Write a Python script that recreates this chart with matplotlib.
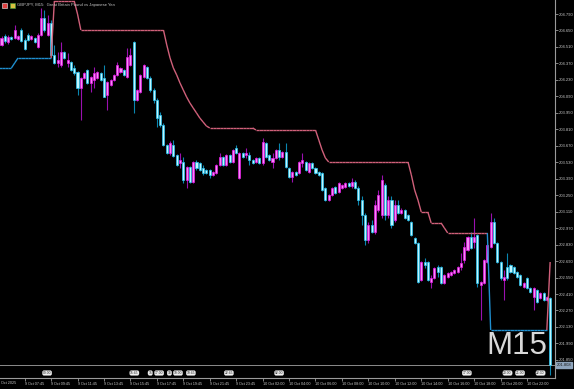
import matplotlib
matplotlib.use("Agg")
import matplotlib.pyplot as plt
from matplotlib.collections import LineCollection
import numpy as np

# ---------------- data (GBPJPY M15, 9 Oct 06:00 -> 10 Oct 23:45) ----------------
opens = [204.527, 204.603, 204.552, 204.595, 204.586, 204.578, 204.654, 204.569, 204.612, 204.578,
         204.586, 204.510, 204.612, 204.756, 204.612, 204.714, 204.442, 204.374, 204.357, 204.467,
         204.374, 204.382, 204.331, 204.297, 204.161, 204.246, 204.314, 204.204, 204.229, 204.246,
         204.289, 204.246, 204.102, 204.187, 204.229, 204.272, 204.297, 204.314, 204.255, 204.357,
         204.552, 204.059, 204.127, 204.255, 204.340, 204.246, 204.144, 204.059, 203.932, 203.847,
         203.677, 203.609, 203.677, 203.592, 203.524, 203.532, 203.379, 203.490, 203.362, 203.532,
         203.524, 203.481, 203.464, 203.464, 203.422, 203.439, 203.507, 203.575, 203.507, 203.592,
         203.532, 203.651, 203.396, 203.609, 203.592, 203.592, 203.549, 203.532, 203.566, 203.524,
         203.694, 203.592, 203.532, 203.566, 203.634, 203.575, 203.617, 203.481, 203.405, 203.447,
         203.439, 203.524, 203.532, 203.447, 203.524, 203.481, 203.447, 203.439, 203.311, 203.209,
         203.252, 203.320, 203.277, 203.311, 203.320, 203.354, 203.328, 203.362, 203.311, 203.209,
         203.082, 202.869, 202.997, 202.937, 203.124, 203.082, 203.337, 203.082, 203.209, 203.039,
         203.167, 203.099, 203.124, 203.082, 203.022, 202.886, 202.843, 202.529, 202.682, 202.682,
         202.512, 202.546, 202.639, 202.639, 202.504, 202.555, 202.572, 202.589, 202.597, 202.639,
         202.699, 202.784, 202.895, 202.852, 202.912, 202.487, 202.504, 202.682, 202.810, 203.022,
         202.843, 202.682, 202.529, 202.639, 202.656, 202.639, 202.597, 202.572, 202.470, 202.546,
         202.461, 202.385, 202.444, 202.376, 202.419, 202.359, 202.376]
highs = [204.603, 204.620, 204.612, 204.603, 204.697, 204.612, 204.671, 204.586, 204.629, 204.612,
         204.595, 204.629, 204.841, 204.824, 204.782, 204.739, 204.527, 204.467, 204.552, 204.476,
         204.459, 204.391, 204.357, 204.306, 204.255, 204.297, 204.323, 204.263, 204.340, 204.306,
         204.297, 204.357, 204.221, 204.238, 204.280, 204.382, 204.340, 204.323, 204.501, 204.501,
         204.561, 204.153, 204.280, 204.365, 204.348, 204.263, 204.161, 204.076, 203.957, 203.864,
         203.685, 203.711, 203.719, 203.600, 203.609, 203.575, 203.498, 203.498, 203.541, 203.549,
         203.532, 203.507, 203.473, 203.473, 203.456, 203.515, 203.609, 203.583, 203.600, 203.600,
         203.643, 203.677, 203.617, 203.617, 203.651, 203.617, 203.558, 203.575, 203.575, 203.736,
         203.702, 203.600, 203.609, 203.643, 203.694, 203.626, 203.694, 203.490, 203.456, 203.456,
         203.541, 203.609, 203.541, 203.532, 203.532, 203.490, 203.456, 203.447, 203.320, 203.260,
         203.320, 203.328, 203.362, 203.345, 203.362, 203.362, 203.396, 203.379, 203.328, 203.243,
         203.099, 203.022, 203.039, 203.209, 203.294, 203.422, 203.354, 203.243, 203.243, 203.209,
         203.209, 203.141, 203.133, 203.090, 203.031, 202.895, 202.852, 202.691, 202.716, 202.691,
         202.572, 202.639, 202.656, 202.648, 202.580, 202.597, 202.605, 202.622, 202.648, 202.759,
         202.852, 202.903, 202.937, 203.056, 202.920, 202.521, 202.708, 202.835, 203.099, 203.056,
         202.852, 202.691, 202.614, 202.759, 202.665, 202.648, 202.605, 202.580, 202.512, 202.555,
         202.470, 202.470, 202.453, 202.427, 202.427, 202.393, 202.385]
lows = [204.518, 204.544, 204.535, 204.569, 204.578, 204.569, 204.552, 204.484, 204.561, 204.569,
        204.544, 204.501, 204.603, 204.637, 204.603, 204.433, 204.365, 204.340, 204.340, 204.408,
        204.340, 204.306, 204.272, 204.102, 203.889, 204.238, 204.195, 204.127, 204.161, 204.238,
        204.221, 204.085, 203.974, 204.178, 204.221, 204.263, 204.289, 204.263, 204.246, 204.348,
        203.949, 204.051, 204.119, 204.246, 204.238, 204.127, 204.034, 203.830, 203.830, 203.668,
        203.600, 203.592, 203.575, 203.498, 203.481, 203.354, 203.311, 203.354, 203.354, 203.464,
        203.456, 203.422, 203.430, 203.396, 203.413, 203.430, 203.498, 203.498, 203.498, 203.524,
        203.524, 203.600, 203.388, 203.566, 203.566, 203.507, 203.515, 203.524, 203.515, 203.507,
        203.566, 203.541, 203.481, 203.558, 203.549, 203.566, 203.481, 203.396, 203.362, 203.413,
        203.430, 203.490, 203.456, 203.439, 203.473, 203.430, 203.413, 203.286, 203.200, 203.200,
        203.243, 203.260, 203.269, 203.303, 203.311, 203.320, 203.311, 203.303, 203.167, 202.997,
        202.827, 202.843, 202.929, 202.920, 203.107, 203.056, 203.039, 203.056, 202.971, 203.022,
        203.090, 203.090, 203.048, 203.031, 202.903, 202.835, 202.504, 202.521, 202.631, 202.521,
        202.461, 202.538, 202.555, 202.495, 202.495, 202.546, 202.563, 202.580, 202.589, 202.614,
        202.673, 202.776, 202.793, 202.801, 202.470, 202.189, 202.495, 202.673, 202.801, 202.835,
        202.673, 202.529, 202.359, 202.529, 202.589, 202.580, 202.546, 202.478, 202.461, 202.453,
        202.419, 202.274, 202.334, 202.368, 202.351, 202.351, 201.722]
closes = [204.586, 204.561, 204.595, 204.578, 204.654, 204.603, 204.561, 204.493, 204.569, 204.603,
          204.552, 204.612, 204.756, 204.654, 204.714, 204.442, 204.374, 204.399, 204.467, 204.416,
          204.399, 204.314, 204.289, 204.161, 204.246, 204.289, 204.204, 204.255, 204.289, 204.297,
          204.229, 204.085, 204.212, 204.229, 204.272, 204.357, 204.331, 204.272, 204.425, 204.442,
          204.059, 204.144, 204.272, 204.357, 204.246, 204.144, 204.059, 203.906, 203.847, 203.677,
          203.609, 203.694, 203.583, 203.507, 203.549, 203.379, 203.490, 203.362, 203.532, 203.481,
          203.464, 203.439, 203.439, 203.422, 203.447, 203.507, 203.575, 203.507, 203.592, 203.532,
          203.634, 203.609, 203.609, 203.575, 203.609, 203.549, 203.524, 203.566, 203.524, 203.702,
          203.575, 203.549, 203.566, 203.634, 203.575, 203.617, 203.490, 203.405, 203.447, 203.422,
          203.532, 203.549, 203.464, 203.524, 203.481, 203.439, 203.422, 203.294, 203.209, 203.252,
          203.311, 203.269, 203.354, 203.337, 203.354, 203.328, 203.362, 203.311, 203.209, 203.082,
          202.869, 202.997, 202.937, 203.167, 203.252, 203.379, 203.082, 203.209, 202.997, 203.167,
          203.099, 203.124, 203.056, 203.039, 202.912, 202.843, 202.512, 202.682, 202.656, 202.529,
          202.546, 202.631, 202.597, 202.504, 202.572, 202.589, 202.597, 202.614, 202.639, 202.673,
          202.810, 202.895, 202.801, 202.895, 202.504, 202.512, 202.699, 202.827, 203.022, 202.843,
          202.682, 202.546, 202.555, 202.546, 202.597, 202.589, 202.555, 202.487, 202.504, 202.461,
          202.427, 202.461, 202.342, 202.419, 202.359, 202.385, 201.808]

# SuperTrend-style stop line and its direction (1 = up/blue, -1 = down/red)
trend = ([204.331] * 4 + [204.374] + [204.416] * 11 + [204.901] * 7 + [204.790] + [204.654] * 26 +
         [204.527, 204.416, 204.331, 204.272, 204.204, 204.144, 204.085, 204.034, 203.991, 203.949,
          203.906, 203.872, 203.838] + [203.821] * 14 + [203.804] * 19 +
         [203.719, 203.634, 203.566] + [203.532] * 25 + [203.422, 203.294, 203.209] +
         [203.107] * 3 + [203.014] * 4 + [202.971] + [202.929] * 13 + [202.104] * 18 + [202.682])
trend_dir = [1] * 16 + [-1] * 132 + [1] * 18 + [-1]

yticks = [204.790, 204.650, 204.510, 204.370, 204.230, 204.090, 203.950, 203.810, 203.670,
          203.530, 203.390, 203.250, 203.110, 202.970, 202.830, 202.690, 202.550, 202.410,
          202.270, 202.130, 201.990, 201.850]
xtick_idx = [7, 15, 23, 31, 39, 47, 55, 63, 71, 79, 87, 95, 103, 111, 119, 127, 135, 143, 151, 159]
xtick_lbl = ["9 Oct 07:45", "9 Oct 09:45", "9 Oct 11:45", "9 Oct 13:45", "9 Oct 15:45",
             "9 Oct 17:45", "9 Oct 19:45", "9 Oct 21:45", "9 Oct 23:45", "10 Oct 02:00",
             "10 Oct 04:00", "10 Oct 06:00", "10 Oct 08:00", "10 Oct 10:00", "10 Oct 12:00",
             "10 Oct 14:00", "10 Oct 16:00", "10 Oct 18:00", "10 Oct 20:00", "10 Oct 22:00"]
flag_idx = [13.8, 40.2, 45.0, 47.7, 50.8, 53.4, 57.3, 68.8, 84.0, 140.8, 153.1, 156.9, 163.1]
flag_lbl = ["09:00", "15:45", "15", "17:00", "18", "19:00", "19:45", "22:45", "02:00",
            "17:00", "20:00", "21:00", "22:30"]
bid_price = 201.808
bid_lbl = "201.808"

# ---------------- figure ----------------
W, H = 574, 389
plt.rcParams['font.family'] = ['Liberation Sans', 'DejaVu Sans']
fig = plt.figure(figsize=(W / 100, H / 100), dpi=100, facecolor="black")
ax = fig.add_axes([0, 11 / H, 555 / W, 378 / H], facecolor="black")

o = np.array(opens); h = np.array(highs); l = np.array(lows); c = np.array(closes)
n = len(o)
x = np.arange(n)
bull = c >= o

BULL_BODY, BULL_EDGE, BULL_WICK = "#f68cf6", "#e818e8", "#9a10b0"
BEAR_BODY, BEAR_EDGE, BEAR_WICK = "#bff6ff", "#28c4f0", "#0a86b0"

ax.vlines(x[bull], l[bull], h[bull], color=BULL_WICK, lw=0.8, zorder=2)
ax.vlines(x[~bull], l[~bull], h[~bull], color=BEAR_WICK, lw=0.8, zorder=2)
ax.bar(x[bull], (c - o)[bull], bottom=o[bull], width=0.62, color=BULL_BODY,
       edgecolor=BULL_EDGE, linewidth=0.5, zorder=3)
ax.bar(x[~bull], (c - o)[~bull], bottom=o[~bull], width=0.62, color=BEAR_BODY,
       edgecolor=BEAR_EDGE, linewidth=0.5, zorder=3)

# trend line segments
tv = np.array(trend); td = np.array(trend_dir)
segs, cols = [[(-1, tv[0]), (x[0], tv[0])]], ["#1f8fd0"]
for i in range(1, n):
    segs.append([(x[i - 1], tv[i - 1]), (x[i], tv[i])])
    cols.append("#1f8fd0" if td[i] > 0 else "#d0607a")
ax.add_collection(LineCollection(segs, colors=cols, linewidths=1.0, zorder=4))

# bid line
ax.axhline(bid_price, color="#8c8c8c", lw=0.7, zorder=1)

ax.set_xlim(-0.454, 167.47)
ax.set_ylim(201.696, 204.909)

for s in ["top", "left"]:
    ax.spines[s].set_visible(False)
for s in ["right", "bottom"]:
    ax.spines[s].set_color("#9a9a9a")
    ax.spines[s].set_linewidth(0.8)

ax.yaxis.tick_right()
ax.set_yticks(yticks)
ax.set_yticklabels([f"{v:.3f}" for v in yticks])
ax.tick_params(axis="y", colors="#9a9a9a", labelcolor="#c8c8c8", length=2, width=0.6,
               labelsize=3.0, pad=0.5)
ax.set_xticks(xtick_idx)
ax.set_xticklabels(xtick_lbl)
ax.tick_params(axis="x", colors="#9a9a9a", labelcolor="#c8c8c8", length=2.5, width=0.6,
               labelsize=2.7, pad=0.2)
for lab in ax.get_xticklabels():
    lab.set_horizontalalignment("left")
fig.text(1 / W, 1 - 383 / H, "Oct 2025", fontsize=2.7, color="#c8c8c8", ha="left", va="center")

# event flags at the bottom of the chart
for fi, fl in zip(flag_idx, flag_lbl):
    ax.text(fi, 201.696 + 0.0085 * 5, fl, fontsize=2.4, color="#202020",
            ha="center", va="center", clip_on=False, zorder=6,
            bbox=dict(boxstyle="round,pad=0.12,rounding_size=0.5", fc="#f0f0f0", ec="#f0f0f0", lw=0.2))

# bid price label
ax.text(1.003, bid_price, bid_lbl, transform=ax.get_yaxis_transform(),
        fontsize=3.0, color="#1a1a1a", ha="left", va="center", clip_on=False,
        bbox=dict(boxstyle="square,pad=0.2", fc="#8ea4bc", ec="#8ea4bc"))

# header
fig.text(17 / W, 1 - 5 / H, "GBPJPY, M15:  Great Britain Pound vs Japanese Yen", fontsize=3.0,
         color="#c8c8c8", ha="left", va="center")
fig.patches.append(plt.Rectangle((2 / W, 1 - 8 / H), 5 / W, 5 / H, transform=fig.transFigure,
                                 fc="#e04040", ec="#f0f0f0", lw=0.4))
fig.patches.append(plt.Rectangle((10 / W, 1 - 8 / H), 5 / W, 5 / H, transform=fig.transFigure,
                                 fc="#d8c040", ec="#40a040", lw=0.4))

fig.text(547 / W, 1 - 354 / H, "M15", fontsize=22.5, color="#d8d8d8", ha="right", va="baseline")

fig.savefig("out.png", dpi=100, facecolor="black")
